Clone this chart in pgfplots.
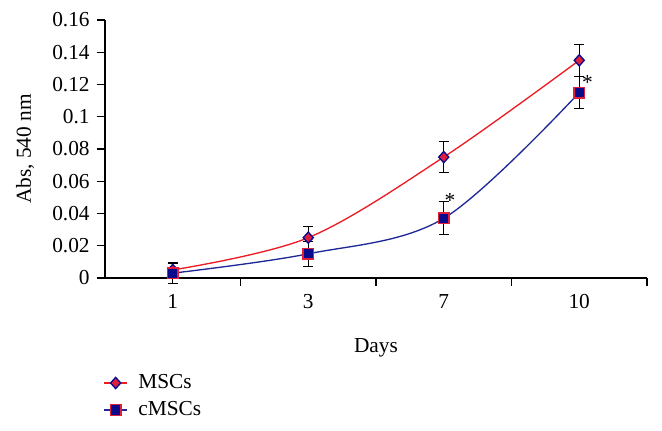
\documentclass[border=0pt]{standalone}
\usepackage{pgfplots}
\pgfplotsset{compat=1.18}
\usepackage{fontspec}
\setmainfont{Liberation Serif}
\definecolor{rline}{RGB}{237,28,36}
\definecolor{bline}{RGB}{30,40,150}
\definecolor{navy}{RGB}{10,10,140}
\definecolor{mred}{RGB}{225,30,60}
\begin{document}
\fontsize{16}{19}\selectfont
\begin{tikzpicture}
\begin{axis}[name=ax, scale only axis, width=406.5pt, height=193.5pt,
 xmin=-0.5, xmax=3.5, ymin=0, ymax=0.16,
 axis x line=bottom, axis y line=left,
 axis line style={-, black, line width=0.8pt},
 tick align=outside, major tick length=6pt,
 tick style={black, line width=0.8pt},
 xtick={0.5,1.5,2.5,3.5}, xticklabels={},
 extra x ticks={0,1,2,3}, extra x tick labels={1,3,7,10},
 extra x tick style={major tick length=0pt, xticklabel style={yshift=-7pt}},
 ytick={0,0.02,0.04,0.06,0.08,0.1,0.12,0.14,0.16},
 yticklabels={0,0.02,0.04,0.06,0.08,0.1,0.12,0.14,0.16},
 /pgf/number format/assume math mode=true,
 tick label style={font=\fontsize{16}{19}\selectfont},
 label style={font=\fontsize{16}{19}\selectfont},
 xlabel={Days}, ylabel={Abs, 540 nm},
 xlabel style={at={(axis description cs:0.5,-0.271)}, anchor=center},
 ylabel style={at={(axis description cs:-0.1476,0.5)}, rotate=0, anchor=center},
 legend style={at={(axis description cs:-0.003,-0.362)}, anchor=north west, draw=none, fill=none,
   font=\fontsize{16}{19}\selectfont, row sep=3.3pt, column sep=6pt, inner sep=0pt},
 legend cell align=left,
 clip=false,
]
\addplot[rline, line width=1pt, smooth, tension=0.55, mark=diamond*, mark size=4.2pt,
  mark options={fill=mred, draw=navy, line width=1pt, xscale=1.2},
  error bars/.cd, y dir=both, y explicit,
  error bar style={black, line width=0.8pt},
  error mark options={black, line width=0.8pt, mark size=3.75pt, rotate=90}]
 coordinates {(0,0.005) +- (0,0.0042) (1,0.025) +- (0,0.007) (2,0.075) +- (0,0.0095) (3,0.135) +- (0,0.010)};
\addlegendentry{MSCs}
\addplot[bline, line width=1pt, smooth, tension=0.55, mark=square*, mark size=4pt,
  mark options={fill=navy, draw=mred, line width=1pt},
  error bars/.cd, y dir=both, y explicit,
  error bar style={black, line width=0.8pt},
  error mark options={black, line width=0.8pt, mark size=3.75pt, rotate=90}]
 coordinates {(0,0.003) +- (0,0.0063) (1,0.015) +- (0,0.0078) (2,0.037) +- (0,0.0103) (3,0.115) +- (0,0.010)};
\addlegendentry{cMSCs}
\node[anchor=base, inner sep=0pt] at (axis cs:2.045,0.044) {*};
\node[anchor=base, inner sep=0pt] at (axis cs:3.06,0.117) {*};
\end{axis}
\pgfresetboundingbox
\path[use as bounding box] (ax.south west) ++(-78.75pt,-114pt) rectangle ++(496.5pt,322.5pt);
\fill[white] (ax.south west) ++(-78.75pt,-114pt) rectangle ++(496.5pt,9.75pt);
\end{tikzpicture}
\end{document}
